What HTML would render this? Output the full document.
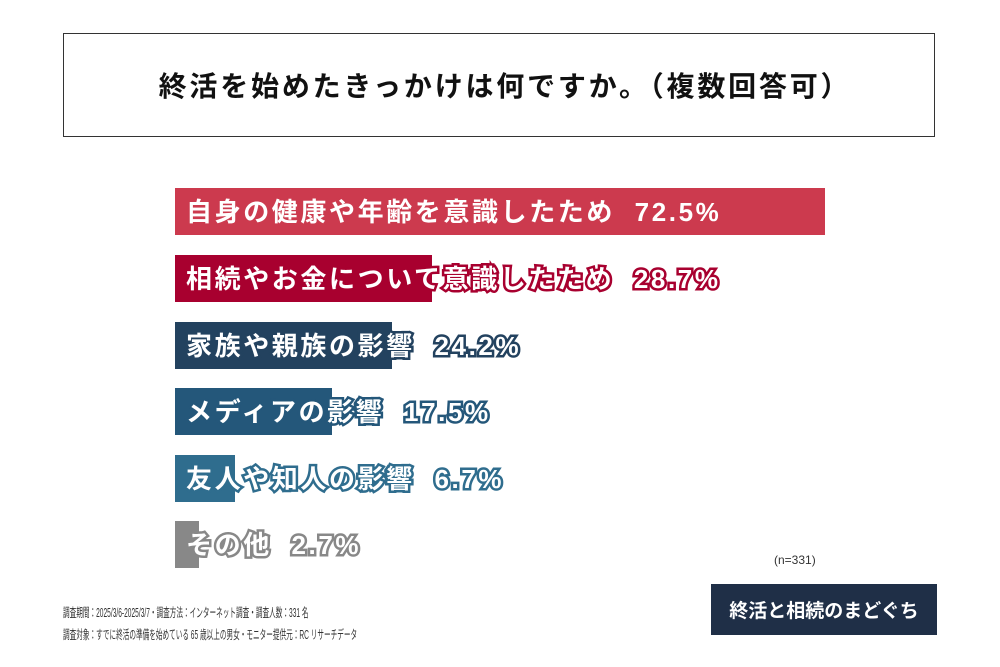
<!DOCTYPE html>
<html><head><meta charset="utf-8"><style>
body{margin:0;width:1000px;height:667px;background:#fff;font-family:"Liberation Sans","Noto Sans CJK JP",sans-serif;position:relative;overflow:hidden}
.title{position:absolute;left:63px;top:33px;width:872px;height:104px;border:1.5px solid #333;box-sizing:border-box;display:flex;align-items:center;justify-content:center;font-size:28px;letter-spacing:2.8px;font-weight:bold;color:#111;padding-left:12px}
.bar{position:absolute;left:175px;height:47px}
.lbl{position:absolute;left:186px;font-size:26px;letter-spacing:2.6px;font-weight:bold;color:#fff;line-height:49px;white-space:pre;-webkit-text-stroke:5px;paint-order:stroke fill}
.foot{position:absolute;left:63px;font-size:12.5px;color:#333;transform:scaleX(0.53);transform-origin:0 0;white-space:nowrap}
</style></head><body>
<div class="title">終活を始めたきっかけは何ですか。（複数回答可）</div>

<div class="bar" style="top:188px;width:650px;background:#cc3a4e"></div>
<div class="lbl" style="top:188px;-webkit-text-stroke-color:#cc3a4e">自身の健康や年齢を意識したため  72.5%</div>

<div class="bar" style="top:255px;width:257px;background:#a8002f"></div>
<div class="lbl" style="top:255px;-webkit-text-stroke-color:#a8002f">相続やお金について意識したため  28.7%</div>

<div class="bar" style="top:322px;width:217px;background:#23425f"></div>
<div class="lbl" style="top:322px;-webkit-text-stroke-color:#23425f">家族や親族の影響  24.2%</div>

<div class="bar" style="top:388px;width:157px;background:#24577a"></div>
<div class="lbl" style="top:388px;-webkit-text-stroke-color:#24577a">メディアの影響  17.5%</div>

<div class="bar" style="top:455px;width:60px;background:#2f6d8e"></div>
<div class="lbl" style="top:455px;-webkit-text-stroke-color:#2f6d8e">友人や知人の影響  6.7%</div>

<div class="bar" style="top:521px;width:24px;background:#888"></div>
<div class="lbl" style="top:521px;-webkit-text-stroke-color:#888">その他  2.7%</div>

<div style="position:absolute;left:774px;top:553px;font-size:12px;color:#333">(n=331)</div>
<div style="position:absolute;left:711px;top:584px;width:226px;height:51px;background:#1f2f47;color:#fff;font-size:19px;font-weight:bold;display:flex;align-items:center;justify-content:center">終活と相続のまどぐち</div>
<div class="foot" style="top:602px">調査期間：2025/3/6-2025/3/7・調査方法：インターネット調査・調査人数：331 名</div>
<div class="foot" style="top:624px">調査対象：すでに終活の準備を始めている 65 歳以上の男女・モニター提供元：RC リサーチデータ</div>
</body></html>
